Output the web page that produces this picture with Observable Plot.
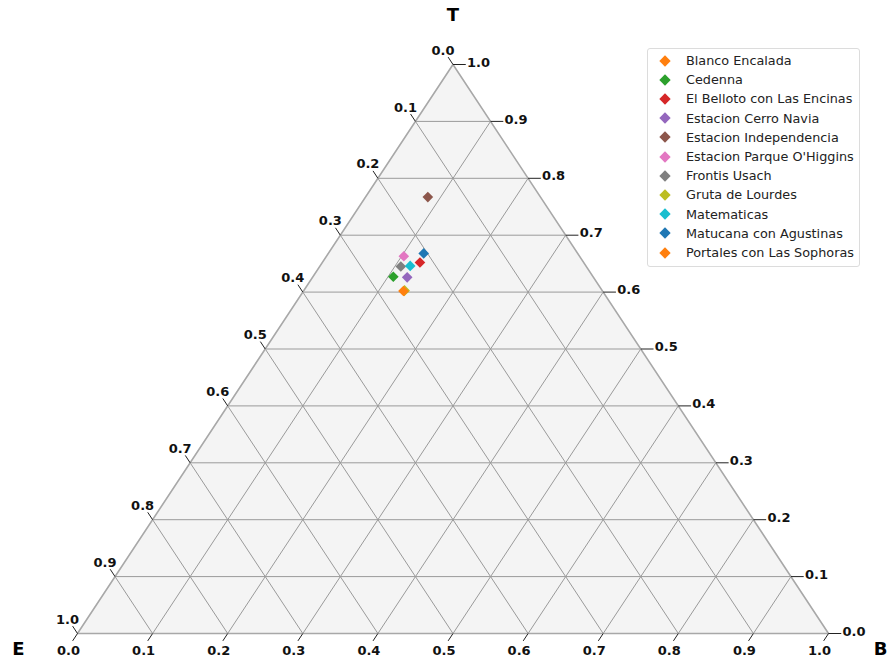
<!DOCTYPE html>
<html>
<head>
<meta charset="utf-8">
<script src="https://cdn.jsdelivr.net/npm/d3@7"></script>
<script src="https://cdn.jsdelivr.net/npm/@observablehq/plot@0.6"></script>
<style>
  body { margin: 0; background: #fff; font-family: "DejaVu Sans", sans-serif; }
  #wrap { position: relative; width: 890px; height: 661px; }
  #legend { position: absolute; left: 647px; top: 48px; width: 213px; height: 219px;
    border: 1px solid #dcdcdc; border-radius: 3px; background: rgba(255,255,255,0.85);
    box-sizing: border-box; font-size: 12.8px; color: #222; }
  .row { position: absolute; left: 0; height: 19px; display: flex; align-items: center; white-space: nowrap; }
  .mk { width: 8px; height: 8px; transform: rotate(45deg); margin-left: 13px; margin-right: 17px; }
</style>
</head>
<body>
<div id="wrap"><div id="legend"></div></div>
<script>
// Stations (legend order) and their colours
const stations = ["Blanco Encalada", "Cedenna", "El Belloto con Las Encinas", "Estacion Cerro Navia",
  "Estacion Independencia", "Estacion Parque O'Higgins", "Frontis Usach", "Gruta de Lourdes",
  "Matematicas", "Matucana con Agustinas", "Portales con Las Sophoras"];
const colors = ["#ff7f0e", "#2ca02c", "#d62728", "#9467bd", "#8c564b", "#e377c2", "#7f7f7f",
  "#bcbd22", "#17becf", "#1f77b4", "#ff7f0e"];
// Ternary fractions
const valT = [0.602, 0.627, 0.652, 0.626, 0.767, 0.663, 0.645, 0.603, 0.646, 0.668, 0.602];
const valB = [0.134, 0.107, 0.130, 0.126, 0.083, 0.103, 0.108, 0.134, 0.120, 0.127, 0.133];
const valE = valT.map((t, i) => +(1 - t - valB[i]).toFixed(3));
// Tick labels
const ticks = [0, 0.1, 0.2, 0.3, 0.4, 0.5, 0.6, 0.7, 0.8, 0.9, 1.0];
const tickLabels = ["0.0", "0.1", "0.2", "0.3", "0.4", "0.5", "0.6", "0.7", "0.8", "0.9", "1.0"];
const axisNames = {top: "T", left: "E", right: "B"};

// ternary (T, B) -> cartesian
const px = (T, B) => B + T / 2;
const py = (T) => T;

const pts = stations.map((s, i) => ({name: s, color: colors[i], T: valT[i], B: valB[i], E: valE[i]}));

// grid lines
const inner = ticks.slice(1, -1);
const grid = [];
for (const t of inner) grid.push({x1: px(t, 0), y1: py(t), x2: px(t, 1 - t), y2: py(t)});
for (const b of inner) grid.push({x1: px(0, b), y1: py(0), x2: px(1 - b, b), y2: py(1 - b)});
for (const e of inner) grid.push({x1: px(0, 1 - e), y1: py(0), x2: px(1 - e, 0), y2: py(1 - e)});

const d = 0.013;
const bottomTicks = ticks.map((b, i) => ({x1: px(0, b), y1: 0, x2: px(-d, b), y2: -d, label: tickLabels[i]}));
const rightTicks = ticks.map((t, i) => ({x1: px(t, 1 - t), y1: t, x2: px(t, 1 - t) + 0.017, y2: t, label: tickLabels[i]}));
const leftTicks = ticks.map((e, i) => ({x1: px(1 - e, 0), y1: 1 - e, x2: px(1 - e + d, -d), y2: 1 - e + d, label: tickLabels[i]}));

const tri = [{x: 0, y: 0}, {x: 0.5, y: 1}, {x: 1, y: 0}];
const border = [{x: 0, y: 0}, {x: 0.5, y: 1}, {x: 1, y: 0}, {x: 0, y: 0}];

const chart = Plot.plot({
  width: 890, height: 661,
  marginLeft: 77, marginRight: 62, marginTop: 64, marginBottom: 28,
  x: {domain: [0, 1], axis: null},
  y: {domain: [0, 1], axis: null},
  style: {fontFamily: "DejaVu Sans, sans-serif", background: "transparent"},
  marks: [
    Plot.areaY(tri, {x: "x", y: "y", fill: "#f4f4f4"}),
    Plot.link(grid, {x1: "x1", y1: "y1", x2: "x2", y2: "y2", stroke: "#9a9a9a", strokeWidth: 1}),
    Plot.line(border, {x: "x", y: "y", stroke: "#a8a8a8", strokeWidth: 1.6}),
    Plot.link(bottomTicks, {x1: "x1", y1: "y1", x2: "x2", y2: "y2", stroke: "#222", strokeWidth: 1}),
    Plot.link(rightTicks, {x1: "x1", y1: "y1", x2: "x2", y2: "y2", stroke: "#222", strokeWidth: 1}),
    Plot.link(leftTicks, {x1: "x1", y1: "y1", x2: "x2", y2: "y2", stroke: "#222", strokeWidth: 1}),
    Plot.text(bottomTicks, {x: "x1", y: "y1", text: "label", dx: -9, dy: 17, fontSize: 13, fontWeight: "bold", fill: "#111"}),
    Plot.text(rightTicks, {x: "x1", y: "y1", text: "label", dx: 14, dy: -2, textAnchor: "start", fontSize: 13, fontWeight: "bold", fill: "#111"}),
    Plot.text(leftTicks, {x: "x1", y: "y1", text: "label", dx: -10, dy: -14, fontSize: 13, fontWeight: "bold", fill: "#111"}),
    Plot.text([axisNames.top], {x: [0.5], y: [1], text: d => d, dy: -49, fontSize: 18, fontWeight: "bold", fill: "#000"}),
    Plot.text([axisNames.left], {x: [0], y: [0], text: d => d, dx: -59, dy: 16, fontSize: 18, fontWeight: "bold", fill: "#000"}),
    Plot.text([axisNames.right], {x: [1], y: [0], text: d => d, dx: 52, dy: 16, fontSize: 18, fontWeight: "bold", fill: "#000"}),
    Plot.dot(pts, {x: d => px(d.T, d.B), y: d => py(d.T), symbol: "diamond2", fill: "color", stroke: null, r: 4.8})
  ]
});
document.getElementById("wrap").prepend(chart);

const leg = document.getElementById("legend");
stations.forEach((s, i) => {
  const row = document.createElement("div");
  row.className = "row";
  row.style.top = (2 + i * 19.2) + "px";
  const mk = document.createElement("div");
  mk.className = "mk";
  mk.style.background = colors[i];
  const tx = document.createElement("span");
  tx.textContent = s;
  row.appendChild(mk); row.appendChild(tx);
  leg.appendChild(row);
});
</script>
</body>
</html>
